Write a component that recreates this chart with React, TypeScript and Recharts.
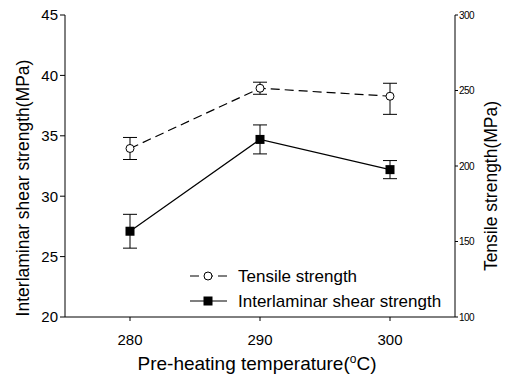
import { ComposedChart, Line, XAxis, YAxis, ErrorBar } from 'recharts'

const temps = [280, 290, 300]
const shearStrength = [27.1, 34.7, 32.2]
const shearErr = [
  [1.4, 1.4],
  [1.2, 1.2],
  [0.75, 0.75],
]
const tensileStrength = [211.6, 251.5, 246.2]
const tensileErr = [
  [7.3, 7.3],
  [4, 4],
  [12, 8.6],
]
const leftTicks = [20, 25, 30, 35, 40, 45]
const rightTicks = [100, 150, 200, 250, 300]
const xTicks = [280, 290, 300]

const data = temps.map((t, i) => ({
  temp: t,
  shear: shearStrength[i],
  shearErr: shearErr[i],
  tensile: tensileStrength[i],
  tensileErr: tensileErr[i],
}))

const FONT = '"Liberation Sans", Arial, sans-serif'

function SquareDot({ cx, cy }: { cx?: number; cy?: number }) {
  if (cx == null || cy == null) return null
  return <rect x={cx - 4.5} y={cy - 4.5} width={9} height={9} fill="#000" />
}

function CircleDot({ cx, cy }: { cx?: number; cy?: number }) {
  if (cx == null || cy == null) return null
  return <circle cx={cx} cy={cy} r={4} fill="#fff" stroke="#000" strokeWidth={1} />
}

function LegendBox() {
  return (
    <svg width={275} height={52} style={{ display: 'block' }}>
      <line x1={5} y1={14} x2={42} y2={14} stroke="#000" strokeWidth={1.2} strokeDasharray="9 5" />
      <circle cx={23} cy={14} r={4} fill="#fff" stroke="#000" />
      <text x={53} y={20} fontFamily={FONT} fontSize={17} fill="#000">
        Tensile strength
      </text>
      <line x1={5} y1={39} x2={42} y2={39} stroke="#000" strokeWidth={1.2} />
      <rect x={18.5} y={34.5} width={9} height={9} fill="#000" />
      <text x={53} y={45} fontFamily={FONT} fontSize={17} fill="#000">
        Interlaminar shear strength
      </text>
    </svg>
  )
}

export default function App() {
  const tickStyle = { fill: '#000', fontSize: 15, fontFamily: FONT }
  return (
    <div style={{ position: 'absolute', left: 0, top: 0, width: 508, height: 380, background: '#fff' }}>
      <ComposedChart width={508} height={380} data={data} margin={{ top: 15, right: 0, bottom: 0, left: 0 }}>
        <XAxis
          dataKey="temp"
          type="number"
          domain={[275, 305]}
          ticks={xTicks}
          height={63}
          tickSize={4}
          tickMargin={13}
          stroke="#000"
          tick={tickStyle}
          label={{
            content: () => (
              <text x={257} y={370} textAnchor="middle" fontFamily={FONT} fontSize={19} fill="#000">
                Pre-heating temperature(
                <tspan fontSize={12} dy={-7}>o</tspan>
                <tspan dy={7}>C)</tspan>
              </text>
            ),
          }}
        />
        <XAxis xAxisId="top" dataKey="temp" type="number" domain={[275, 305]} orientation="top" tick={false} tickLine={false} stroke="#000" height={0} />
        <YAxis
          yAxisId="left"
          domain={[20, 45]}
          ticks={leftTicks}
          width={65}
          tickSize={5}
          stroke="#000"
          tick={tickStyle}
          label={{
            content: () => (
              <text
                x={23}
                y={188}
                transform="rotate(-90 23 188)"
                textAnchor="middle"
                dominantBaseline="central"
                fontFamily={FONT}
                fontSize={17.5}
                fill="#000"
              >
                Interlaminar shear strength(MPa)
              </text>
            ),
          }}
        />
        <YAxis
          yAxisId="right"
          orientation="right"
          domain={[100, 300]}
          ticks={rightTicks}
          width={53}
          tickSize={3}
          tickMargin={1}
          stroke="#000"
          tick={{ fill: '#000', fontSize: 10, fontFamily: FONT, letterSpacing: -0.6 }}
          label={{
            content: () => (
              <text
                x={491}
                y={186}
                transform="rotate(-90 491 186)"
                textAnchor="middle"
                dominantBaseline="central"
                fontFamily={FONT}
                fontSize={17.5}
                fill="#000"
              >
                Tensile strength(MPa)
              </text>
            ),
          }}
        />
        <Line
          yAxisId="right"
          dataKey="tensile"
          stroke="#000"
          strokeWidth={1.2}
          strokeDasharray="9 5"
          dot={<CircleDot />}
          activeDot={false}
          isAnimationActive={false}
        >
          <ErrorBar dataKey="tensileErr" width={7} stroke="#000" strokeWidth={1} direction="y" />
        </Line>
        <Line
          yAxisId="left"
          dataKey="shear"
          stroke="#000"
          strokeWidth={1.2}
          dot={<SquareDot />}
          activeDot={false}
          isAnimationActive={false}
        >
          <ErrorBar dataKey="shearErr" width={7} stroke="#000" strokeWidth={1} direction="y" />
        </Line>
      </ComposedChart>
      <div style={{ position: 'absolute', left: 185, top: 262 }}>
        <LegendBox />
      </div>
    </div>
  )
}
